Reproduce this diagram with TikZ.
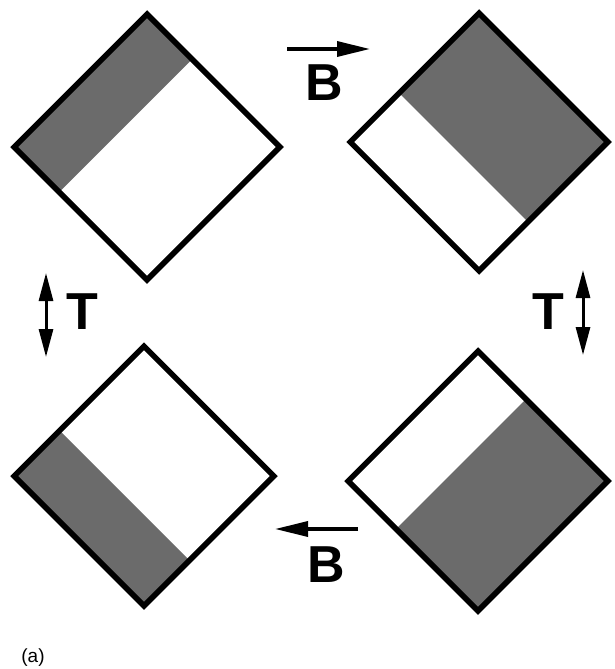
\documentclass[tikz,border=0pt]{standalone}
\usepackage{fontspec}
\setmainfont{Liberation Sans}
\usetikzlibrary{shapes.geometric,arrows.meta,calc}

\definecolor{halftone}{gray}{0.42}

\tikzset{
  cell/.style={diamond, draw, line width=5.5pt, inner sep=0pt, minimum size=#1},
  strip/.style n args={5}{path picture={
      \fill[halftone] (path picture bounding box.#1) -- (path picture bounding box.#2)
        -- ($(path picture bounding box.#2)!#5!(path picture bounding box.#3)$)
        -- ($(path picture bounding box.#1)!#5!(path picture bounding box.#4)$) -- cycle;}},
  lbl/.style={font=\bfseries\fontsize{52}{52}\selectfont, inner sep=0pt},
  field/.style={-{Triangle[length=33pt,width=15pt]}, line width=3.5pt},
  twoway/.style={{Triangle[length=28pt,width=14pt]}-{Triangle[length=28pt,width=14pt]}, line width=3pt},
}

\begin{document}
\begin{tikzpicture}[x=1pt, y=-1pt]
  \useasboundingbox (0,0) rectangle (615,669);

  % the four states
  \node[cell=268pt, strip={west}{north}{east}{south}{0.34}] (tl) at (147,147) {};
  \node[cell=260pt, strip={north}{east}{south}{west}{0.62}] (tr) at (479,142) {};
  \node[cell=262pt, strip={west}{south}{east}{north}{0.35}] (bl) at (144,476) {};
  \node[cell=262pt, strip={south}{east}{north}{west}{0.63}] (br) at (478,481) {};

  % field B
  \coordinate (b1s) at (287,49);  \coordinate (b1e) at (370,49);
  \coordinate (b2s) at (358,529); \coordinate (b2e) at (275,529);
  \draw[field] (b1s) -- (b1e);
  \draw[field] (b2s) -- (b2e);
  \node[lbl] (btop) at (324,83) {B};
  \node[lbl] (bbot) at (326,565) {B};

  % temperature T
  \coordinate (t1s) at (46,273);  \coordinate (t1e) at (46,357);
  \coordinate (t2s) at (583,270); \coordinate (t2e) at (583,355);
  \draw[twoway] (t1s) -- (t1e);
  \draw[twoway] (t2s) -- (t2e);
  \node[lbl] (tleft) at (82,312) {T};
  \node[lbl] (tright) at (548,312) {T};

  \node[font=\fontsize{19}{19}\selectfont, inner sep=0pt] (cap) at (33,658) {(a)};
\end{tikzpicture}
\end{document}
